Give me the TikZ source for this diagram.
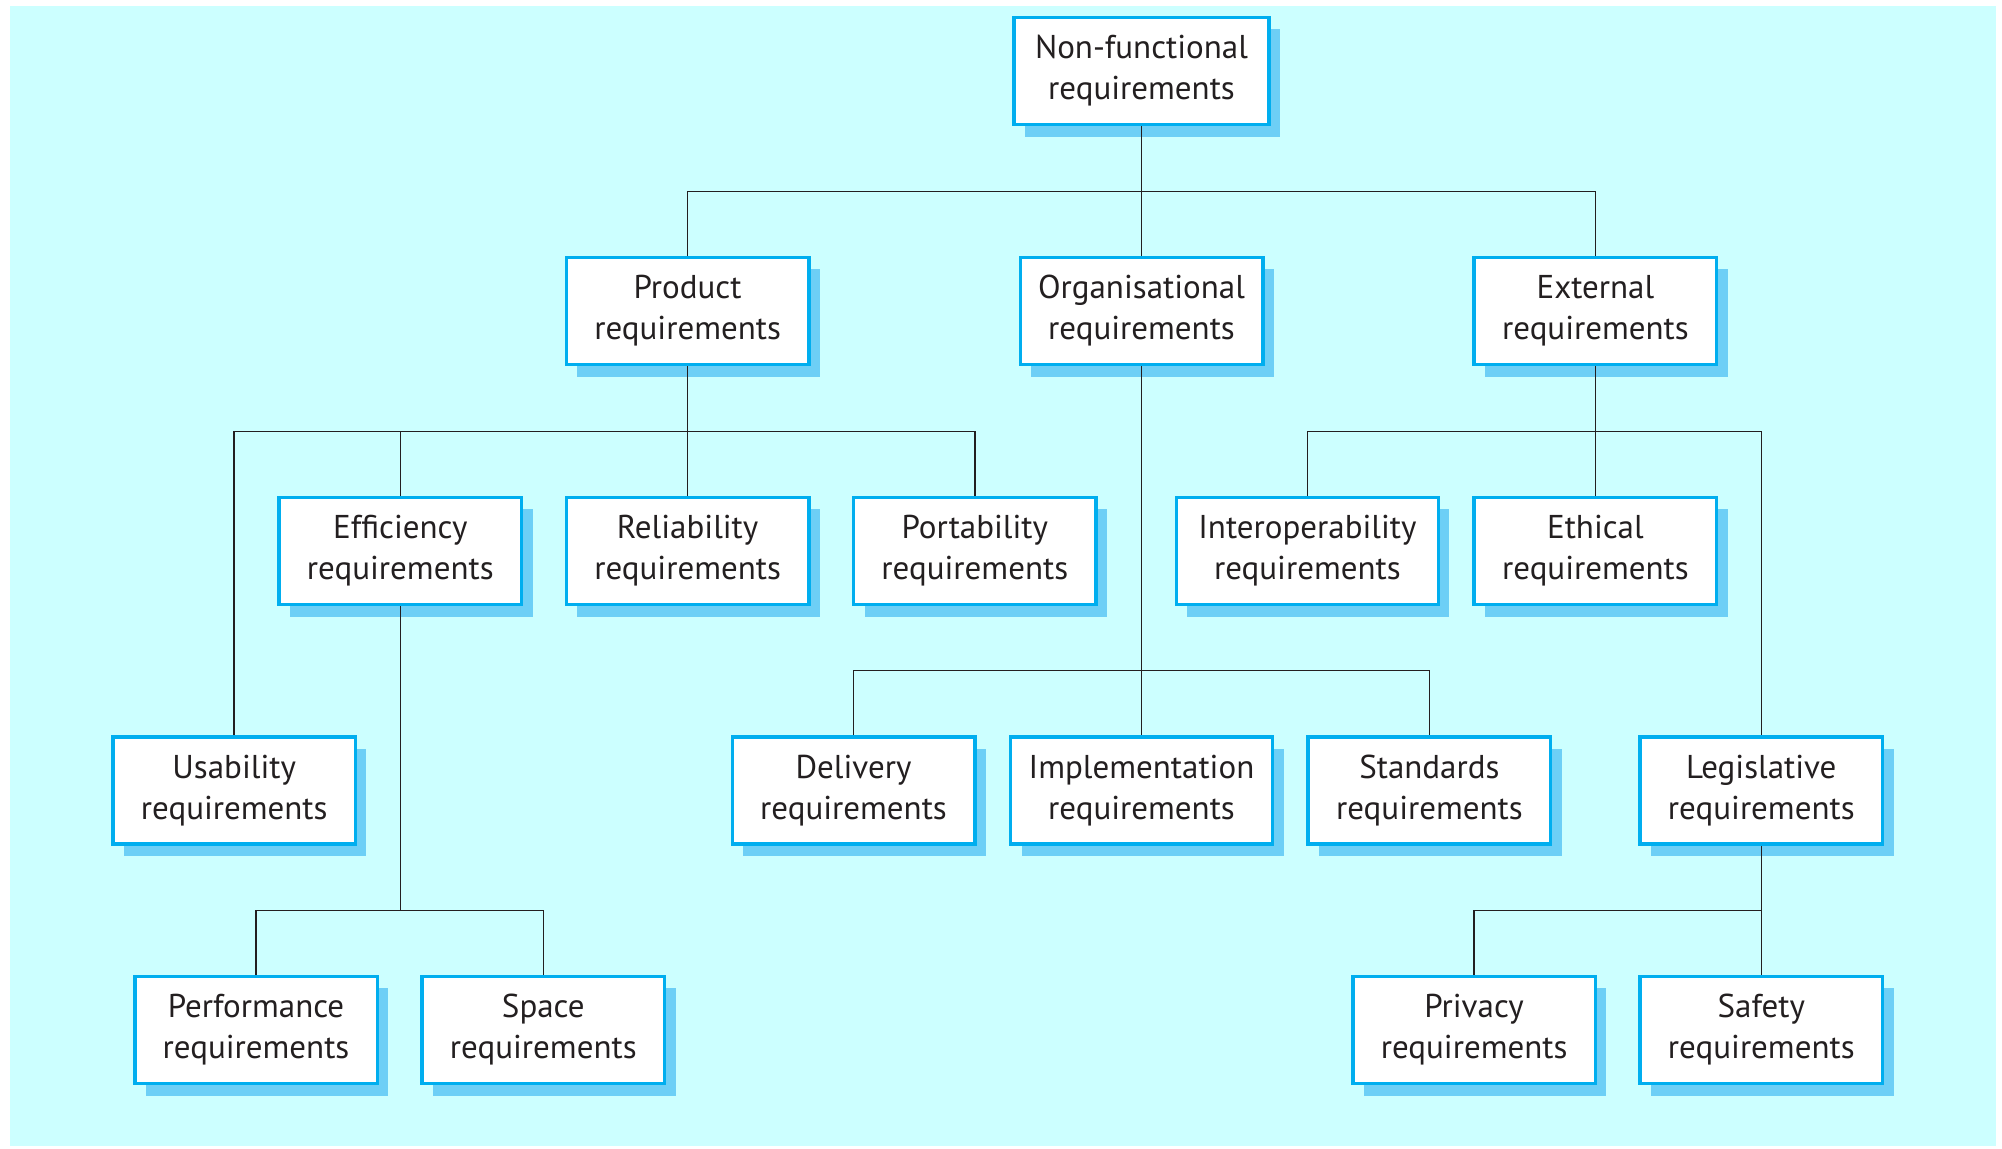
\documentclass[tikz,border=0pt]{standalone}
\usepackage{fontspec}
\setmainfont{PT Sans}
\usetikzlibrary{shadows}
\definecolor{bg}{RGB}{204,255,255}
\definecolor{bord}{RGB}{0,174,239}
\definecolor{shad}{RGB}{109,207,246}
\definecolor{txt}{RGB}{35,31,32}
\tikzset{
 req/.style={draw=bord, line width=1.75pt, fill=white, minimum width=121.25pt, minimum height=53.6pt, inner sep=0pt, align=center, font=\fontsize{16.5}{20.5}\selectfont, text=txt, drop shadow={shadow xshift=5.5pt, shadow yshift=-6pt, fill=shad, opacity=1}},
 widebox/.style={minimum width=131pt},
 topbox/.style={minimum width=127.3pt},
 conn/.style={draw=txt, line width=0.8pt}
}
\begin{document}
\begin{tikzpicture}[x=0.5pt,y=-0.5pt]
\useasboundingbox (0,0) rectangle (2002,1148);
\fill[white] (0,0) rectangle (2002,1148);
\fill[bg] (10,6) rectangle (1996,1146);
% nodes
\node[req,topbox] (top) at (1141.5,71) {Non-functional\\requirements};
\node[req] (prod) at (687.6,311) {Product\\requirements};
\node[req] (org) at (1141.5,311) {Organisational\\requirements};
\node[req] (ext) at (1595.4,311) {External\\requirements};
\node[req] (eff) at (400.3,551) {Efficiency\\requirements};
\node[req] (rel) at (687.6,551) {Reliability\\requirements};
\node[req] (port) at (974.8,551) {Portability\\requirements};
\node[req,widebox] (inter) at (1307.4,551) {Interoperability\\requirements};
\node[req] (eth) at (1595.4,551) {Ethical\\requirements};
\node[req] (use) at (234.2,790.5) {Usability\\requirements};
\node[req] (del) at (853.5,790.5) {Delivery\\requirements};
\node[req,widebox] (impl) at (1141.5,790.5) {Implementation\\requirements};
\node[req] (std) at (1429.4,790.5) {Standards\\requirements};
\node[req] (leg) at (1761.3,790.5) {Legislative\\requirements};
\node[req] (perf) at (256,1030) {Performance\\requirements};
\node[req] (space) at (543.3,1030) {Space\\requirements};
\node[req] (priv) at (1474.1,1030) {Privacy\\requirements};
\node[req] (safe) at (1761.3,1030) {Safety\\requirements};
% bus levels
\coordinate (b1) at (0,191.5);
\coordinate (b2) at (0,431.6);
\coordinate (b3) at (0,670.3);
\coordinate (b4) at (0,910.3);
% connectors
\draw[conn] (top.south) -- (org.north);
\draw[conn] (prod.north) -- (prod.north |- b1) -- (ext.north |- b1) -- (ext.north);
\draw[conn] (prod.south) -- (rel.north);
\draw[conn] (use.north) -- (use.north |- b2) -- (port.north |- b2) -- (port.north);
\draw[conn] (eff.north) -- (eff.north |- b2);
\draw[conn] (org.south) -- (impl.north);
\draw[conn] (del.north) -- (del.north |- b3) -- (std.north |- b3) -- (std.north);
\draw[conn] (ext.south) -- (eth.north);
\draw[conn] (inter.north) -- (inter.north |- b2) -- (leg.north |- b2) -- (leg.north);
\draw[conn] (eff.south) -- (eff.south |- b4);
\draw[conn] (perf.north) -- (perf.north |- b4) -- (space.north |- b4) -- (space.north);
\draw[conn] (leg.south) -- (safe.north);
\draw[conn] (priv.north) -- (priv.north |- b4) -- (safe.north |- b4);
\end{tikzpicture}
\end{document}
